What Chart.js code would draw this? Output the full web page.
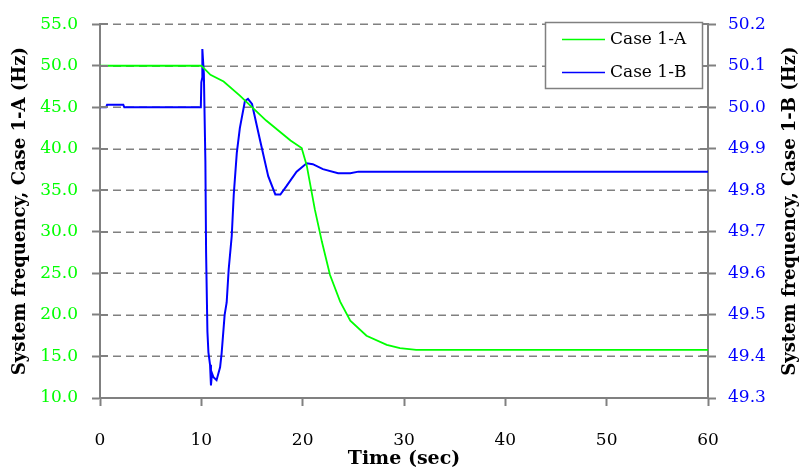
<!DOCTYPE html>
<html>
<head>
<meta charset="utf-8">
<script src="https://cdn.jsdelivr.net/npm/chart.js@4.4.1/dist/chart.umd.min.js"></script>
<style>
  html, body { margin: 0; padding: 0; background: #fff; }
  #wrap { width: 802px; height: 470px; }
</style>
</head>
<body>
<div id="wrap"><canvas id="freqChart" width="802" height="470"></canvas></div>
<script>
// series values
const timeA = [0, 10, 10.9, 12.2, 13.8, 16.4, 18.8, 19.9, 20.4, 21.2, 21.9, 22.7, 23.7, 24.7, 26.3, 28.3, 29.6, 31.2, 60];
const freqA = [50.0, 50.0, 48.9, 48.1, 46.4, 43.4, 41.0, 40.1, 38.0, 32.7, 28.8, 24.8, 21.6, 19.3, 17.5, 16.4, 16.0, 15.8, 15.8];

const timeB = [0, 0.6, 0.7, 2.3, 2.4, 9.95, 10.0, 10.08, 10.1, 10.25, 10.4, 10.47, 10.6, 10.7, 10.86, 10.95, 11.05, 11.2,
  11.5, 11.85, 12.0, 12.3, 12.5, 12.7, 13.0, 13.2, 13.5, 13.8, 14.3, 14.6, 15.0, 15.8, 16.6, 17.3, 17.8, 18.4, 19.4,
  20.4, 21.0, 22.0, 23.5, 24.7, 25.5, 60];
const freqB = [50.0, 50.0, 50.006, 50.006, 50.0, 50.0, 50.06, 50.07, 50.14, 50.08, 49.87, 49.65, 49.46, 49.41, 49.38, 49.33, 49.36, 49.35,
  49.343, 49.374, 49.407, 49.50, 49.53, 49.61, 49.69, 49.79, 49.89, 49.95, 50.015, 50.02, 50.008, 49.92, 49.834, 49.79, 49.79, 49.81, 49.845,
  49.865, 49.863, 49.851, 49.841, 49.841, 49.845, 49.845];

// tick labels
const timeTicks = [0, 10, 20, 30, 40, 50, 60];
const leftTicks = [10, 15, 20, 25, 30, 35, 40, 45, 50, 55];
const rightTicks = [49.3, 49.4, 49.5, 49.6, 49.7, 49.8, 49.9, 50.0, 50.1, 50.2];

const seriesNames = ['Case 1-A', 'Case 1-B'];
const xTitle = 'Time (sec)';
const leftTitle = 'System frequency, Case 1-A (Hz)';
const rightTitle = 'System frequency, Case 1-B (Hz)';

const GREEN = '#00ff00';
const BLUE = '#0000ff';
const GREY = '#808080';
const FONT = "'DejaVu Serif', 'Liberation Serif', serif";

function toPoints(xs, ys) {
    return xs.map((x, i) => ({ x: x, y: ys[i] }));
}

// dashed grid from the left axis ticks
const gridPlugin = {
    id: 'dashedGrid',
    beforeDatasetsDraw(chart) {
        const ctx = chart.ctx;
        const area = chart.chartArea;
        const yl = chart.scales.y;
        ctx.save();
        ctx.strokeStyle = GREY;
        ctx.lineWidth = 1.5;
        ctx.setLineDash([8, 5]);
        ctx.beginPath();
        yl.ticks.forEach(t => {
            const py = Math.round(yl.getPixelForValue(t.value)) + 0.25;
            ctx.moveTo(area.left, py); ctx.lineTo(area.right, py);
        });
        ctx.stroke();
        ctx.restore();
    }
};

// inner half of the crossing ticks, right axis title (bottom to top), boxed legend
const extrasPlugin = {
    id: 'extras',
    afterDraw(chart) {
        const ctx = chart.ctx;
        const yl = chart.scales.y, yr = chart.scales.y2;
        ctx.save();
        ctx.strokeStyle = GREY;
        ctx.lineWidth = 2;
        ctx.beginPath();
        yl.ticks.forEach(t => {
            const py = Math.round(yl.getPixelForValue(t.value));
            ctx.moveTo(yl.right, py); ctx.lineTo(yl.right + 8, py);
        });
        yr.ticks.forEach(t => {
            const py = Math.round(yr.getPixelForValue(t.value));
            ctx.moveTo(yr.left, py); ctx.lineTo(yr.left - 8, py);
        });
        ctx.stroke();

        const area = chart.chartArea;
        ctx.font = "bold 18px " + FONT;
        ctx.fillStyle = '#000';
        ctx.textAlign = 'center';
        ctx.textBaseline = 'middle';
        ctx.translate(790, (area.top + area.bottom) / 2);
        ctx.rotate(-Math.PI / 2);
        ctx.fillText(rightTitle, 0, 0);
        ctx.restore();

        // legend box
        ctx.save();
        const bx = 545.5, by = 22.5, bw = 157, bh = 66;
        ctx.fillStyle = '#fff';
        ctx.fillRect(bx, by, bw, bh);
        ctx.strokeStyle = GREY;
        ctx.lineWidth = 1.5;
        ctx.strokeRect(bx, by, bw, bh);
        ctx.font = "17px " + FONT;
        ctx.textAlign = 'left';
        ctx.textBaseline = 'middle';
        chart.data.datasets.forEach((ds, i) => {
            const ly = 39.5 + i * 33;
            ctx.strokeStyle = ds.borderColor;
            ctx.lineWidth = 1.5;
            ctx.beginPath();
            ctx.moveTo(562, ly); ctx.lineTo(605, ly);
            ctx.stroke();
            ctx.fillStyle = '#000';
            ctx.fillText(ds.label, 610, ly);
        });
        ctx.restore();
    }
};

const ctx = document.getElementById('freqChart').getContext('2d');
new Chart(ctx, {
    type: 'line',
    data: {
        datasets: [{
            label: seriesNames[0],
            data: toPoints(timeA, freqA),
            borderColor: GREEN,
            borderWidth: 1.8,
            yAxisID: 'y'
        }, {
            label: seriesNames[1],
            data: toPoints(timeB, freqB),
            borderColor: BLUE,
            borderWidth: 2,
            yAxisID: 'y2'
        }]
    },
    options: {
        responsive: false,
        animation: false,
        parsing: false,
        layout: { padding: { top: 19, left: 0, right: 0, bottom: 0 } },
        elements: { point: { radius: 0 }, line: { tension: 0 } },
        plugins: { legend: { display: false }, tooltip: { enabled: false } },
        scales: {
            x: {
                type: 'linear',
                min: 0, max: 60,
                afterBuildTicks: s => { s.ticks = timeTicks.map(v => ({ value: v })); },
                afterFit: s => { s.height = 72; },
                border: { color: GREY, width: 2 },
                grid: { drawOnChartArea: false, tickLength: 8, tickColor: GREY, tickWidth: 2 },
                ticks: { color: '#000', font: { family: FONT, size: 17 }, padding: 24, maxRotation: 0 },
                title: { display: true, text: xTitle, color: '#000', font: { family: FONT, size: 19, weight: 'bold' }, padding: { top: 0, bottom: 0 } }
            },
            y: {
                position: 'left',
                min: 10, max: 55,
                afterBuildTicks: s => { s.ticks = leftTicks.map(v => ({ value: v })); },
                afterFit: s => { s.width = 100; },
                border: { color: GREY, width: 2 },
                grid: { drawOnChartArea: false, tickLength: 8, tickColor: GREY, tickWidth: 2 },
                ticks: { color: GREEN, font: { family: FONT, size: 17 }, padding: 14, callback: v => v.toFixed(1) },
                title: { display: true, text: leftTitle, color: '#000', font: { family: FONT, size: 18, weight: 'bold' }, padding: { top: 10, bottom: 0 } }
            },
            y2: {
                position: 'right',
                min: 49.3, max: 50.2,
                afterBuildTicks: s => { s.ticks = rightTicks.map(v => ({ value: v })); },
                afterFit: s => { s.width = 94; },
                border: { color: GREY, width: 2 },
                grid: { drawOnChartArea: false, tickLength: 8, tickColor: GREY, tickWidth: 2 },
                ticks: { color: BLUE, font: { family: FONT, size: 17 }, padding: 12, callback: v => v.toFixed(1) }
            }
        }
    },
    plugins: [gridPlugin, extrasPlugin]
});
</script>
</body>
</html>
